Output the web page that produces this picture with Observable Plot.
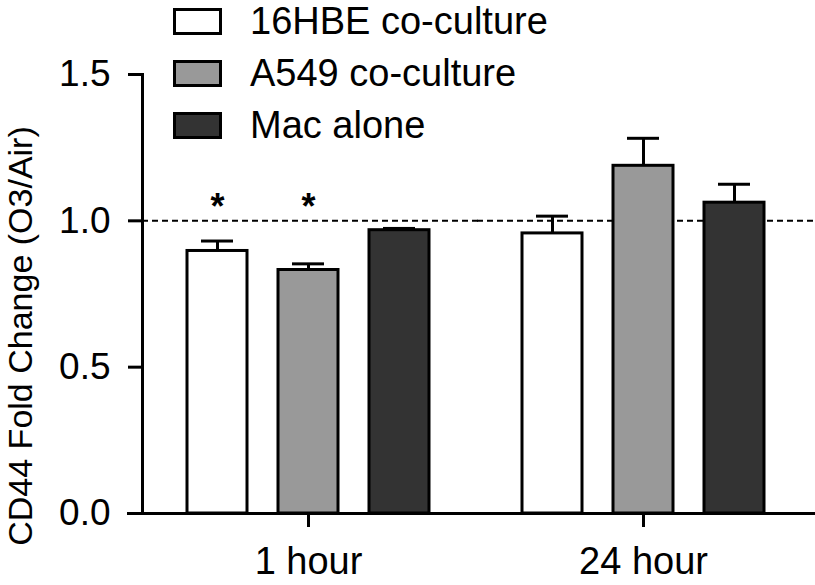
<!DOCTYPE html>
<html><head><meta charset="utf-8">
<script src="https://cdn.jsdelivr.net/npm/d3@7"></script>
<script src="https://cdn.jsdelivr.net/npm/@observablehq/plot@0.6"></script>
<style>
body{margin:0;background:#fff;font-family:"Liberation Sans",Arial,sans-serif;}
#wrap{position:relative;width:815px;height:585px;}
#legend{position:absolute;left:173px;top:8px;}
.row{display:flex;align-items:center;height:27px;margin-bottom:25px;}
.sw{width:43px;height:21px;border:3px solid #000;flex:none;}
.lab{margin-left:28px;font-size:38px;line-height:27px;color:#000;white-space:nowrap;}
</style></head><body><div id="wrap"><div id="chart"></div><div id="legend"></div></div>
<script>
const times = ["1 hour", "24 hour"];
const series = ["16HBE co-culture", "A549 co-culture", "Mac alone"];
const colors = ["#ffffff", "#999999", "#333333"];
const means1h = [0.897, 0.832, 0.968];
const errs1h = [0.034, 0.021, 0.006];
const means24h = [0.957, 1.188, 1.062];
const errs24h = [0.059, 0.094, 0.063];
const stars1h = ["*", "*", ""];
const stars24h = ["", "", ""];
const yTicks = [0, 0.5, 1.0, 1.5];
const yLabel = "CD44 Fold Change (O3/Air)";

const rows = [];
[[means1h, errs1h, stars1h], [means24h, errs24h, stars24h]].forEach(([m, e, s], i) => {
  series.forEach((name, j) => rows.push({time: times[i], series: name, value: m[j], err: e[j], star: s[j]}));
});

const chart = Plot.plot({
  width: 815, height: 585,
  marginLeft: 142, marginRight: 6, marginTop: 74, marginBottom: 72,
  style: {fontFamily: "Liberation Sans, Arial, sans-serif", fontSize: "38px", color: "#000", background: "transparent"},
  facet: {data: rows, x: "time"},
  fx: {domain: times, paddingInner: 0.01, paddingOuter: 0, label: null, axis: null},
  x: {domain: series, paddingInner: 0.341, paddingOuter: 0.4945, axis: null},
  y: {domain: [0, 1.5], axis: null},
  color: {domain: series, range: colors},
  marks: [
    Plot.ruleY([1], {stroke: "#000", strokeWidth: 2, strokeDasharray: "6,4", insetRight: -4}),
    Plot.barY(rows, {x: "series", y: "value", fill: "series", stroke: "#000", strokeWidth: 3}),
    Plot.ruleX(rows, {x: "series", y1: "value", y2: d => d.value + d.err, stroke: "#000", strokeWidth: 3}),
    Plot.tickY(rows, {x: "series", y: d => d.value + d.err, stroke: "#000", strokeWidth: 3, insetLeft: 14, insetRight: 14}),
    Plot.text(rows, {filter: d => d.star, x: "series", y: () => 1.045, text: "star", fontSize: 36, fontWeight: "bold", fill: "#000"}),
    Plot.frame({anchor: "left", facet: "super", stroke: "#000", strokeWidth: 3}),
    Plot.frame({anchor: "bottom", facet: "super", stroke: "#000", strokeWidth: 3, insetLeft: -14, insetRight: -4}),
    Plot.axisY({ticks: yTicks, tickFormat: d => d.toFixed(1), tickSize: 14, tickPadding: 18, strokeWidth: 3, fontSize: 37, label: null}),
    Plot.text([yLabel], {facet: "super", frameAnchor: "left", textAnchor: "middle", lineAnchor: "middle", rotate: -90, dx: -121, dy: 42, fontSize: 34, fill: "#000", text: d => d}),
    Plot.axisFx({anchor: "bottom", tickSize: 14, tickPadding: 20, strokeWidth: 3, fontSize: 38, label: null})
  ]
});
document.getElementById("chart").appendChild(chart);
const lg = document.getElementById("legend");
series.forEach((s, i) => {
  const r = document.createElement("div"); r.className = "row";
  r.innerHTML = `<div class="sw" style="background:${colors[i]}"></div><div class="lab">${s}</div>`;
  lg.appendChild(r);
});
</script></body></html>
